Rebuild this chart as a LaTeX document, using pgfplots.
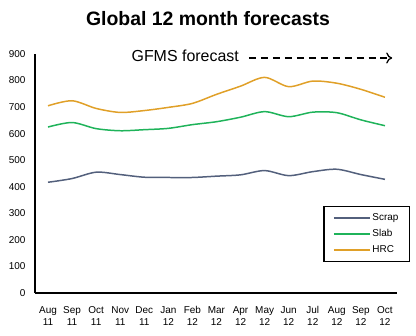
\documentclass[border=0pt]{standalone}
\usepackage{pgfplots}
\pgfplotsset{compat=1.18}
\usetikzlibrary{arrows.meta}
\usepackage{fontspec}
\setmainfont{Liberation Sans}
\definecolor{scrapc}{HTML}{53607C}
\definecolor{slabc}{HTML}{1FB35A}
\definecolor{hrcc}{HTML}{E0A028}
\newcommand\tl[2]{\rule{0pt}{8bp}#1\\#2}
\begin{document}
\begin{tikzpicture}
\begin{axis}[
  scale only axis,
  width=362bp, height=239bp,
  xmin=-0.54, xmax=14.5,
  ymin=0, ymax=900,
  ytick={0,100,...,900},
  xtick={0,...,14},
  xticklabels={{\tl{Aug}{11}},{\tl{Sep}{11}},{\tl{Oct}{11}},{\tl{Nov}{11}},{\tl{Dec}{11}},{\tl{Jan}{12}},{\tl{Feb}{12}},{\tl{Mar}{12}},{\tl{Apr}{12}},{\tl{May}{12}},{\tl{Jun}{12}},{\tl{Jul}{12}},{\tl{Aug}{12}},{\tl{Sep}{12}},{\tl{Oct}{12}}},
  xticklabel style={align=center, font=\fontsize{10}{12.5}\selectfont, yshift=-9bp},
  yticklabel style={font=\fontsize{10}{12}\selectfont, xshift=-6bp},
  /pgf/number format/assume math mode=true,
  axis x line=bottom, axis y line=left,
  axis line style={-, line width=1.8pt},
  major tick length=0pt,
  clip=false,
  legend style={at={(1.036,0.13)}, anchor=south east, draw=black, line width=1.1pt,
    font=\fontsize{10}{12}\selectfont, row sep=3.6pt, inner xsep=9pt, inner ysep=5pt},
  legend cell align=left,
  legend image code/.code={\draw[#1, line width=1.5pt] (0,0) -- (36bp,0);},
  every axis plot/.append style={line width=1.5pt, smooth, tension=0.5, no markers},
]
\addplot[scrapc] coordinates {(0,417)(1,431)(2,455)(3,446)(4,436)(5,435)(6,435)(7,440)(8,445)(9,461)(10,442)(11,457)(12,466)(13,446)(14,428)};
\addlegendentry{Scrap}
\addplot[slabc] coordinates {(0,625)(1,642)(2,619)(3,611)(4,615)(5,620)(6,634)(7,645)(8,662)(9,683)(10,664)(11,681)(12,679)(13,652)(14,630)};
\addlegendentry{Slab}
\addplot[hrcc] coordinates {(0,705)(1,724)(2,695)(3,680)(4,687)(5,699)(6,714)(7,748)(8,779)(9,812)(10,777)(11,798)(12,790)(13,767)(14,737)};
\addlegendentry{HRC}
\node[font=\fontsize{16}{19}\selectfont] at (axis cs:5.7,893) {GFMS forecast};
\draw[line width=1.3pt, dash pattern=on 7pt off 5pt, -{To[length=6pt,width=11pt]}] (axis cs:8.35,885) -- (axis cs:14.3,885);
\end{axis}
\node[font=\bfseries\fontsize{19.5}{23}\selectfont] at (173bp,274bp) {Global 12 month forecasts};
\pgfresetboundingbox
\path[use as bounding box] (-35bp,-43bp) rectangle (381bp,293bp);
\end{tikzpicture}
\end{document}
